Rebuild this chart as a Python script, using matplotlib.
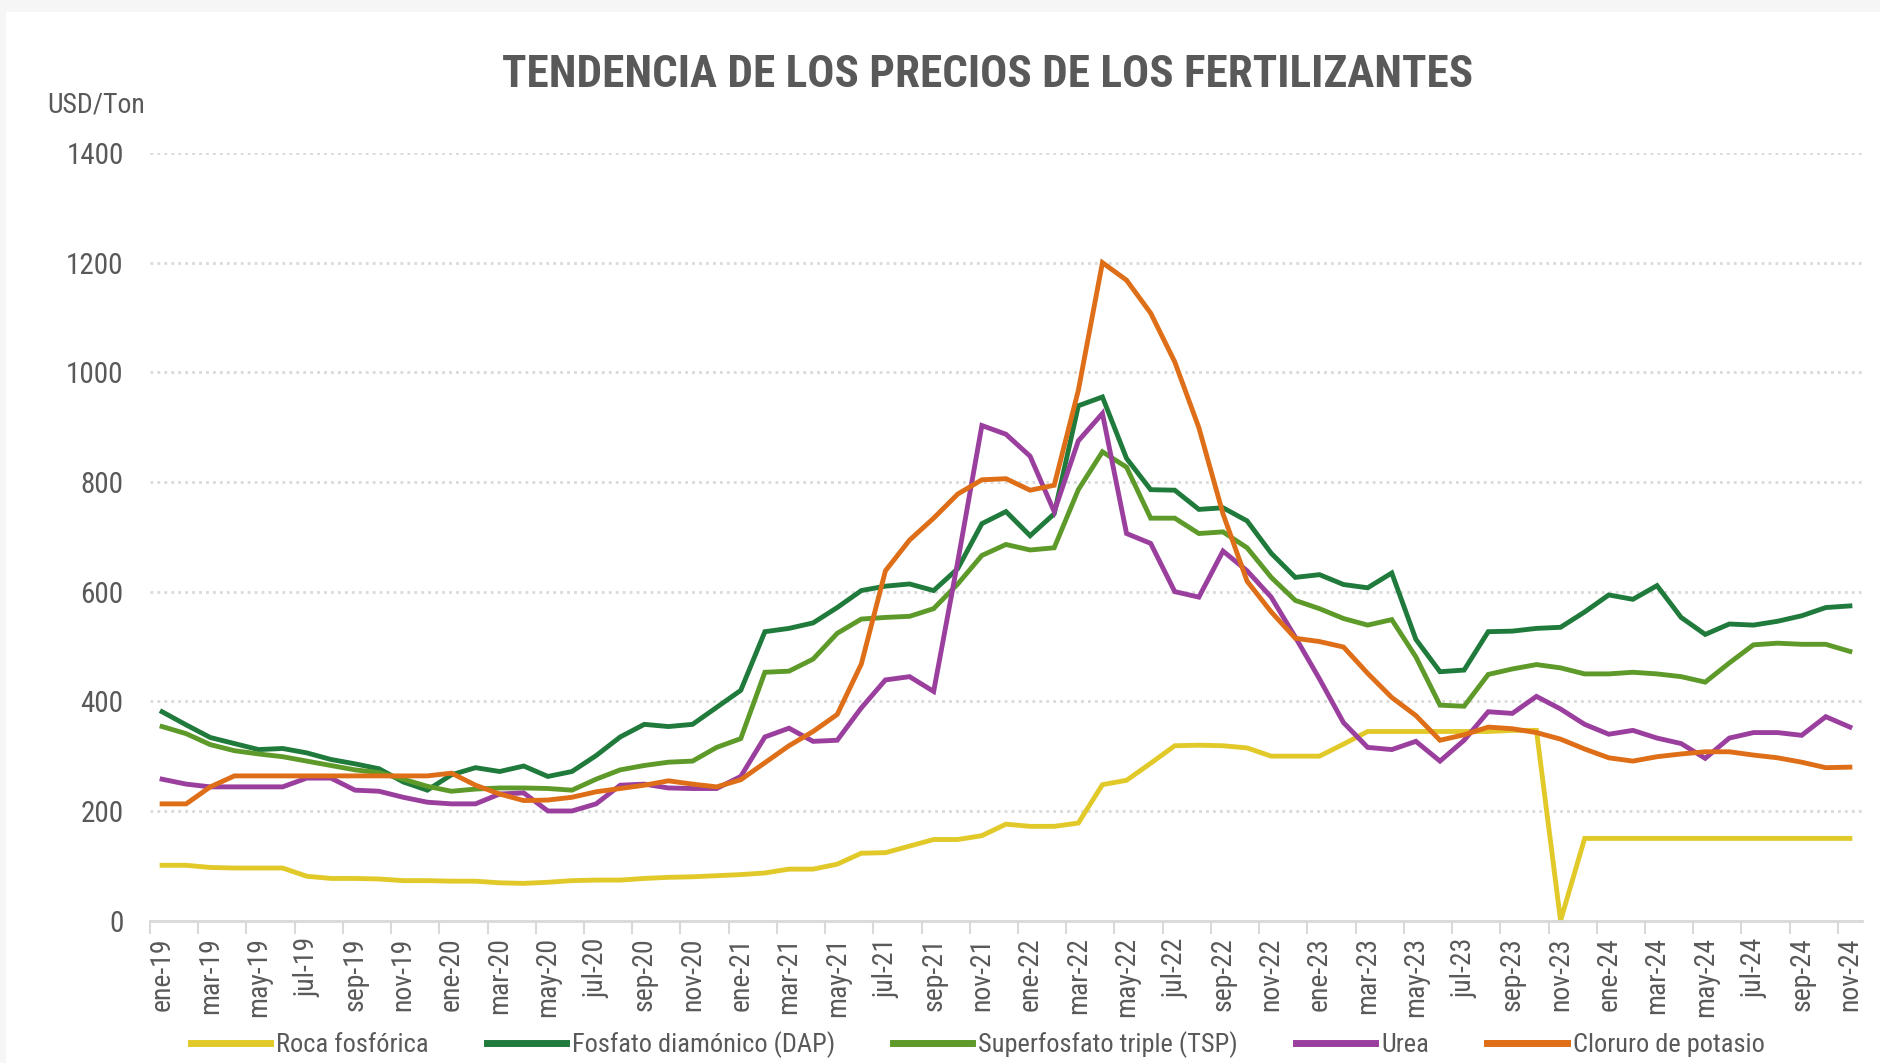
import matplotlib
matplotlib.use('Agg')
import matplotlib.pyplot as plt
from matplotlib import font_manager
from matplotlib.patches import Rectangle

# look for a narrow sans face (the original uses Arial Narrow); else shrink Liberation Sans
narrow_names = set()
for f in font_manager.fontManager.ttflist:
    if 'condensed' in str(f.stretch).lower() or 'narrow' in f.name.lower() or 'condensed' in f.name.lower():
        narrow_names.add(f.name)
FONT, SCALE = 'Liberation Sans', 0.85
for cand in ['Liberation Sans Narrow', 'Roboto Condensed', 'Open Sans Condensed', 'DejaVu Sans']:
    if cand in narrow_names:
        FONT, SCALE = cand, 1.0
        break
plt.rcParams['font.family'] = [FONT, 'DejaVu Sans']
if SCALE == 1.0:
    plt.rcParams['font.stretch'] = 'condensed'

# monthly prices, ene-19 .. nov-24 (USD/Ton)
tick_labels = ['ene-19', 'mar-19', 'may-19', 'jul-19', 'sep-19', 'nov-19',
               'ene-20', 'mar-20', 'may-20', 'jul-20', 'sep-20', 'nov-20',
               'ene-21', 'mar-21', 'may-21', 'jul-21', 'sep-21', 'nov-21',
               'ene-22', 'mar-22', 'may-22', 'jul-22', 'sep-22', 'nov-22',
               'ene-23', 'mar-23', 'may-23', 'jul-23', 'sep-23', 'nov-23',
               'ene-24', 'mar-24', 'may-24', 'jul-24', 'sep-24', 'nov-24']

roca = [101, 101, 97, 96, 96, 96, 81, 77, 77, 76, 73, 73, 72, 72, 69, 68, 70, 73, 74, 74,
        77, 79, 80, 82, 84, 87, 94, 94, 103, 123, 124, 136, 148, 148, 155, 176, 172, 172, 178, 248,
        256, 287, 319, 320, 319, 315, 300, 300, 300, 322, 345, 345, 345, 345, 345, 345, 347, 347, 0, 150,
        150, 150, 150, 150, 150, 150, 150, 150, 150, 150, 150]

dap = [381, 357, 334, 323, 312, 314, 306, 294, 286, 277, 253, 238, 266, 279, 272, 282, 263, 272, 301, 335,
       358, 354, 358, 389, 420, 527, 533, 543, 571, 602, 610, 614, 602, 642, 724, 746, 702, 742, 939, 955,
       843, 786, 785, 750, 753, 729, 670, 626, 631, 613, 607, 634, 513, 454, 457, 527, 528, 533, 535, 563,
       594, 586, 611, 553, 522, 541, 539, 546, 556, 571, 574]

tsp = [354, 341, 321, 310, 304, 299, 291, 283, 275, 270, 258, 245, 236, 240, 242, 242, 241, 238, 258, 275,
       283, 289, 291, 316, 332, 453, 455, 477, 524, 550, 553, 555, 569, 614, 666, 686, 676, 680, 786, 855,
       827, 734, 734, 706, 709, 680, 626, 584, 569, 551, 539, 549, 481, 393, 391, 449, 459, 467, 461, 450,
       450, 453, 450, 445, 435, 470, 503, 506, 504, 504, 491]

urea = [258, 249, 244, 244, 244, 244, 260, 260, 238, 236, 225, 216, 213, 213, 231, 233, 200, 200, 213, 247,
        249, 242, 241, 241, 263, 335, 351, 327, 329, 388, 439, 445, 418, 655, 903, 887, 847, 746, 875, 925,
        706, 688, 600, 590, 674, 638, 590, 517, 441, 361, 316, 312, 327, 291, 329, 381, 378, 409, 386, 358,
        340, 347, 333, 323, 296, 333, 343, 343, 338, 372, 353]

cloruro = [213, 213, 244, 264, 264, 264, 264, 264, 264, 264, 264, 264, 269, 247, 231, 219, 220, 225, 235, 241,
           247, 255, 249, 244, 257, 288, 319, 345, 376, 468, 638, 694, 734, 778, 804, 806, 785, 794, 967, 1200,
           1168, 1108, 1019, 899, 742, 619, 563, 515, 509, 499, 451, 407, 374, 329, 339, 353, 350, 343, 331, 313,
           297, 291, 299, 304, 308, 308, 302, 297, 289, 279, 280]

series = [('Roca fosfórica', roca, '#E2C92A'),
          ('Fosfato diamónico (DAP)', dap, '#1F7A3B'),
          ('Superfosfato triple (TSP)', tsp, '#5E9A2A'),
          ('Urea', urea, '#9A3F9E'),
          ('Cloruro de potasio', cloruro, '#DE6E17')]

TXT = '#595959'
GRID = '#D9D9D9'

fig = plt.figure(figsize=(18.8, 10.63), dpi=100, facecolor='#F6F6F6')
fig.patches.append(Rectangle((0.003, 0), 0.997, 0.989, transform=fig.transFigure,
                             facecolor='white', edgecolor='none', zorder=-1))
ax = fig.add_axes([0.0798, 0.1339, 0.9106, 0.7222])
ax.set_facecolor('white')

n = len(roca)
x = list(range(n))
for name, vals, col in series:
    ax.plot(x, vals, color=col, lw=3.5, label=name, solid_joinstyle='miter')

ax.set_xlim(-0.5, n - 0.5)
ax.set_ylim(0, 1400)
ax.set_yticks(range(0, 1401, 200))
ax.tick_params(axis='y', length=0, labelsize=21 * SCALE, labelcolor=TXT, pad=19)
ax.grid(axis='y', color=GRID, lw=2, linestyle=(0, (1, 1.5)))
ax.set_axisbelow(True)

# tick marks between categories, labels on categories
ax.set_xticks([i - 0.5 for i in range(0, n, 2)])
ax.set_xticklabels([])
ax.tick_params(axis='x', which='major', length=9, width=1.5, color=GRID, direction='out')
ax.set_xticks(list(range(0, n, 2)), minor=True)
ax.set_xticklabels(tick_labels, minor=True, rotation=90, fontsize=20 * SCALE, color=TXT)
ax.tick_params(axis='x', which='minor', length=0, pad=12)

for s in ['top', 'right', 'left']:
    ax.spines[s].set_visible(False)
ax.spines['bottom'].set_color(GRID)
ax.spines['bottom'].set_linewidth(2)

fig.text(0.5255, 0.929, 'TENDENCIA DE LOS PRECIOS DE LOS FERTILIZANTES', ha='center', va='center',
         fontsize=32.5 * SCALE, fontweight='bold', color=TXT)
fig.text(0.025, 0.901, 'USD/Ton', ha='left', va='center', fontsize=20 * SCALE, color=TXT)

leg = fig.legend(loc='center', bbox_to_anchor=(0.52, 0.017), ncol=5, frameon=False,
                 fontsize=19 * SCALE, handlelength=3.0 / SCALE, handletextpad=0.23,
                 columnspacing=2.2 / SCALE, labelcolor=TXT)
for h in leg.get_lines():
    h.set_linewidth(5)

fig.savefig('out.png', dpi=100, facecolor=fig.get_facecolor())
